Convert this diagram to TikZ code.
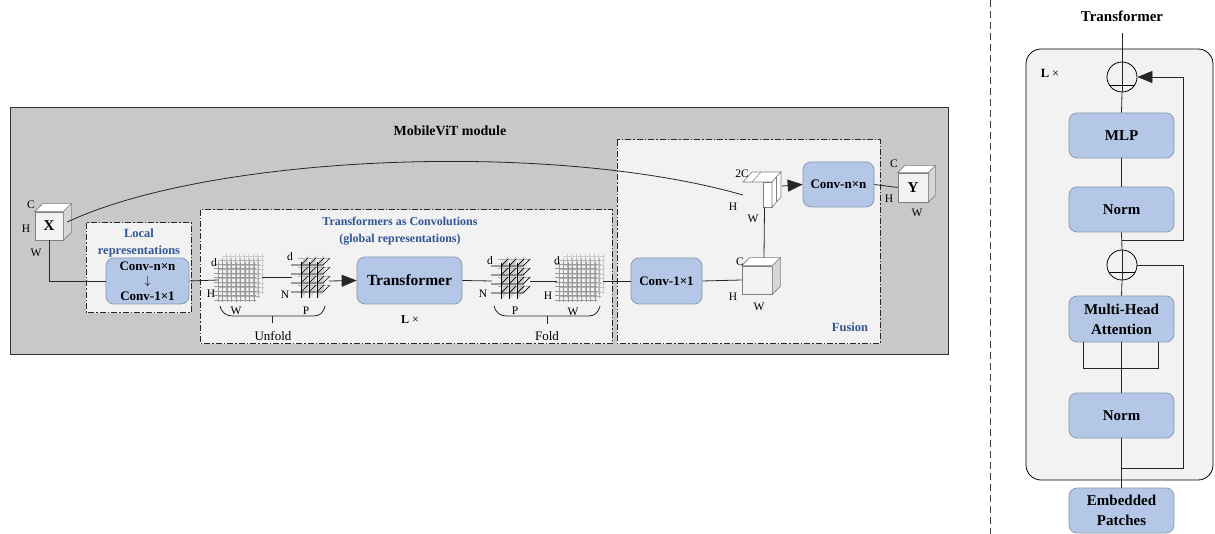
\documentclass[tikz,border=0pt]{standalone}
\usepackage{fontspec}
\setmainfont{Liberation Serif}
\usetikzlibrary{arrows.meta,calc}
\definecolor{modgray}{HTML}{C8C8C8}
\definecolor{lightbg}{HTML}{F2F2F2}
\definecolor{boxblue}{HTML}{B4C7E7}
\definecolor{boxedge}{HTML}{8497B0}
\definecolor{titleblue}{HTML}{2F5597}
\definecolor{cubeedge}{HTML}{7F7F7F}
\definecolor{cuberight}{HTML}{D3D8D3}
\newcommand\fsz[1]{\fontsize{#1}{#1}\selectfont}
\tikzset{
  blk/.style={draw=boxedge, fill=boxblue, rounded corners=8pt, line width=0.7pt,
              font=\bfseries, align=center, inner sep=0pt},
  lbl/.style={font=\fsz{11.5}, inner sep=0pt},
  conn/.style={draw=black!85, line width=0.8pt},
  bigarrow/.style={-{Triangle[length=15pt,width=12pt]}},
  ddot/.style={draw=black!85, line width=1pt, dash pattern=on 6pt off 2pt on 1.5pt off 2pt},
  cubenode/.style={draw=cubeedge, fill=lightbg, line width=0.6pt, inner sep=0pt, font=\bfseries\fsz{15}},
  plusnode/.style={circle, draw=black, line width=0.8pt, minimum size=30pt, inner sep=0pt},
  btitle/.style={font=\bfseries\fsz{12}, text=titleblue, align=center, inner sep=0pt},
}
\newcommand\cubefaces[2]{%
  \filldraw[draw=cubeedge, fill=white, line width=0.6pt] (#1.north west) -- ++(#2,-#2) -- ($(#1.north east)+(#2,-#2)$) -- (#1.north east) -- cycle;
  \filldraw[draw=cubeedge, fill=cuberight, line width=0.6pt] (#1.north east) -- ++(#2,-#2) -- ($(#1.south east)+(#2,-#2)$) -- (#1.south east) -- cycle;
}
\newcommand\hwgrid[1]{%
  \begin{scope}[shift={#1}]
    \foreach \o/\c in {8/gray!40,4/gray!60,0/gray!80}{
      \foreach \i in {0,...,8}{
        \draw[\c,line width=0.6pt] (\o+\i*4.5,-\o-2) -- (\o+\i*4.5,-\o+38);
        \draw[\c,line width=0.6pt] (\o-4,-\o+\i*4.5) -- (\o+38,-\o+\i*4.5);
      }
    }
  \end{scope}}
\newcommand\npgrid[1]{%
  \begin{scope}[shift={#1}]
    \foreach \j in {0,...,3}{\draw[gray!60,line width=0.6pt] (3,\j*9-7) -- (35,\j*9-7);}
    \foreach \i in {0,1,2}{
      \fill[gray!50,opacity=0.7] (6+\i*8,-3) -- ++(7,-7) -- ++(0,36) -- ++(-7,7) -- cycle;
    }
    \foreach \j in {0,...,3}{
      \draw[black,line width=0.7pt] (-4,\j*9) -- (28,\j*9) -- ++(7,-7);
      \foreach \i in {0,1,2}{\draw[black,line width=0.7pt] (6+\i*8,\j*9) -- ++(7,-7);}
    }
    \foreach \i in {0,1,2}{\draw[black,line width=0.6pt] (6+\i*8,-3) -- (6+\i*8,33);}
  \end{scope}}
\begin{document}
\begin{tikzpicture}[x=1pt,y=-1pt]
\useasboundingbox (0,0) rectangle (1215,534);

% ================= MobileViT module =================
\draw[fill=modgray, draw=black!80, line width=1pt] (10,108) rectangle (948,355);
\node[font=\bfseries\fsz{14}, inner sep=0pt] (modtitle) at (450,131) {MobileViT module};

% sub boxes
\path[ddot, fill=lightbg] (617,140) rectangle (880,344);
\path[ddot, fill=lightbg] (200,210) rectangle (612,344);
\path[ddot, fill=lightbg] (86,223) rectangle (191,313);

\node[btitle, font=\bfseries\fsz{12.5}] (loctitle) at (139,243) {Local\\[4pt]representations};
\node[btitle] (gtitle) at (400,231) {Transformers as Convolutions\\[5pt](global representations)};
\node[btitle, font=\bfseries\fsz{12.5}] (fustitle) at (850,327) {Fusion};

% X cube
\node[cubenode, minimum width=28pt, minimum height=28pt] (X) at (49,226) {X};
\cubefaces{X}{8}
\node[lbl] (xC) at (31,205) {C};
\node[lbl] (xH) at (26,229) {H};
\node[lbl] (xW) at (36,253) {W};

% local conv
\node[blk, minimum width=83pt, minimum height=46pt, font=\bfseries\fsz{13}] (convL) at (147.5,281)
  {Conv-n×n\\[1pt]{\mdseries$\downarrow$}\\[3pt]Conv-1×1};

% grids
\hwgrid{(218,264)}
\npgrid{(295,265)}
\npgrid{(495,266)}
\hwgrid{(559,264)}
\coordinate (g1L) at (218,280);
\coordinate (g1R) at (262,277);
\coordinate (g2L) at (292,277);
\coordinate (g2R) at (329,281);
\coordinate (g3L) at (492,281);
\coordinate (g3R) at (530,281);
\coordinate (g4L) at (557,281);
\coordinate (g4R) at (603,281);

\node[lbl] (g1d) at (214,263) {d};
\node[lbl] (g1H) at (211,294) {H};
\node[lbl] (g1W) at (236,311) {W};
\node[lbl] (g2d) at (290,257) {d};
\node[lbl] (g2N) at (285,295) {N};
\node[lbl] (g2P) at (306,311) {P};
\node[lbl] (g3d) at (490,261) {d};
\node[lbl] (g3N) at (483,294) {N};
\node[lbl] (g3P) at (515,311) {P};
\node[lbl] (g4d) at (557,261) {d};
\node[lbl] (g4H) at (548,296) {H};
\node[lbl] (g4W) at (573,312) {W};

% brackets
\draw[conn] (220,306) .. controls (222,313) and (226,316) .. (233,316) -- (313,316) .. controls (320,316) and (323,313) .. (325,306);
\draw[conn] (272,316) -- (272,323);
\node[font=\fsz{13}, inner sep=0pt] (unfold) at (273,336) {Unfold};
\draw[conn] (494,306) .. controls (496,313) and (500,316) .. (507,316) -- (588,316) .. controls (595,316) and (598,313) .. (600,306);
\draw[conn] (547,316) -- (547,324);
\node[font=\fsz{13}, inner sep=0pt] (fold) at (547,336) {Fold};

% transformer
\node[blk, minimum width=105pt, minimum height=47pt, font=\bfseries\fsz{15.5}] (trans) at (409.5,280.5) {Transformer};
\node[inner sep=0pt, font=\fsz{12}] (lx1) at (410,320) {\textbf{L} ×};

% fusion
\node[blk, minimum width=71pt, minimum height=46pt, font=\bfseries\fsz{13}] (conv1) at (666.5,281) {Conv-1×1};
\node[cubenode, minimum width=30pt, minimum height=28pt] (cubeC) at (757,280) {};
\cubefaces{cubeC}{8}
\node[lbl] (cC) at (740,262) {C};
\node[lbl] (cH) at (733,297) {H};
\node[lbl] (cW) at (759,307) {W};

% concatenated (2C) tensor
\filldraw[draw=cubeedge, fill=white, line width=0.6pt] (743,182) -- (752,172) -- (781,172) -- (772,182) -- cycle;
\node[draw=cubeedge, fill=white, line width=0.6pt, minimum width=9pt, minimum height=25pt, inner sep=0pt] (cat) at (767.5,194.5) {};
\filldraw[draw=cubeedge, fill=white, line width=0.6pt] (772,182) -- (781,172) -- (781,197) -- (772,207) -- cycle;
\draw[cubeedge, line width=0.5pt] (776.5,177) -- (776.5,202);
\draw[cubeedge, line width=0.5pt] (761,172) -- (752,182);
\node[lbl] (catC) at (742,174) {2C};
\node[lbl] (catH) at (733,207) {H};
\node[lbl] (catW) at (753,219) {W};
\coordinate (catR) at (782,186);
\coordinate (curveEnd) at (743,195);

\node[blk, minimum width=71pt, minimum height=45pt, font=\bfseries\fsz{13}] (convN) at (838.5,184.5) {Conv-n×n};

% Y cube
\node[cubenode, minimum width=30pt, minimum height=29pt] (Y) at (913,187.5) {Y};
\cubefaces{Y}{7}
\node[lbl] (yC) at (894,164) {C};
\node[lbl] (yH) at (889,199) {H};
\node[lbl] (yW) at (917,213) {W};

% connectors
\draw[conn] ($(X.east)+(4,-4)$) .. controls (210,155) and (550,140) .. (curveEnd);
\draw[conn] (X.south) |- (convL.west);
\draw[conn] (convL.east) -- (g1L);
\draw[conn] (g1R) -- (g2L);
\draw[conn, bigarrow] (g2R) -- (trans.west);
\draw[conn] (trans.east) -- (g3L);
\draw[conn] (g3R) -- (g4L);
\draw[conn] (g4R) -- (conv1.west);
\draw[conn] (conv1.east) -- (cubeC.west);
\draw[conn] ($(cubeC.north)+(7,-8)$) -- ($(cat.south)+(-3,0)$);
\draw[conn, bigarrow] (catR) -- (convN.west);
\draw[conn] (convN.east) -- (Y.west);

% ================= separator =================
\draw[black!75, line width=0.8pt, dash pattern=on 7pt off 4pt] (990,0) -- (990,534);

% ================= Transformer detail =================
\node[font=\bfseries\fsz{15}, inner sep=0pt] (ttitle) at (1122,16) {Transformer};
\draw[fill=lightbg, draw=black, line width=0.8pt, rounded corners=15pt] (1026,49) rectangle (1213,480);
\node[inner sep=0pt, font=\fsz{12.5}] (lx2) at (1050,73) {\textbf{L} ×};

\node[plusnode] (plus1) at (1122,77) {};
\node[plusnode] (plus2) at (1122,265) {};
\draw[black, line width=0.8pt] (1109,85) -- (1135,85);
\draw[black, line width=0.8pt] (1109,272) -- (1135,272);

\node[blk, minimum width=105pt, minimum height=45pt, font=\bfseries\fsz{15}] (mlp) at (1121.5,135.5) {MLP};
\node[blk, minimum width=105pt, minimum height=45pt, font=\bfseries\fsz{15}] (norm1) at (1121.5,209.5) {Norm};
\node[blk, minimum width=105pt, minimum height=46pt, font=\bfseries\fsz{15}] (mha) at (1121.5,319) {Multi-Head\\[5pt]Attention};
\node[blk, minimum width=105pt, minimum height=45pt, font=\bfseries\fsz{15}] (norm2) at (1121.5,415.5) {Norm};
\node[blk, minimum width=105pt, minimum height=45pt, font=\bfseries\fsz{15}] (emb) at (1121.5,510.5) {Embedded\\[5pt]Patches};

\coordinate (s1) at (1122,240);
\coordinate (s2) at (1122,468);

\draw[conn] (ttitle.south |- 0,33) -- (plus1.south);
\draw[conn] (plus1.south) -- (mlp.north);
\draw[conn] (mlp.south) -- (norm1.north);
\draw[conn] (norm1.south) -- (plus2.north);
\draw[conn] (plus2.north) -- (plus2.south);
\draw[conn] (plus2.south) -- (mha.north);
\draw[conn] (mha.south) -- (norm2.north);
\draw[conn] (norm2.south) -- (emb.north);
\draw[conn, bigarrow] (s1) -- (1183,240) -- (1183,77) -- (plus1.east);
\draw[conn] (s2) -- (1183,468) -- (1183,265) -- (plus2.east);
\draw[conn] ($(mha.south)+(-38,0)$) -- ++(0,26) -- ++(75,0) -- ($(mha.south)+(37,0)$);
\end{tikzpicture}
\end{document}
